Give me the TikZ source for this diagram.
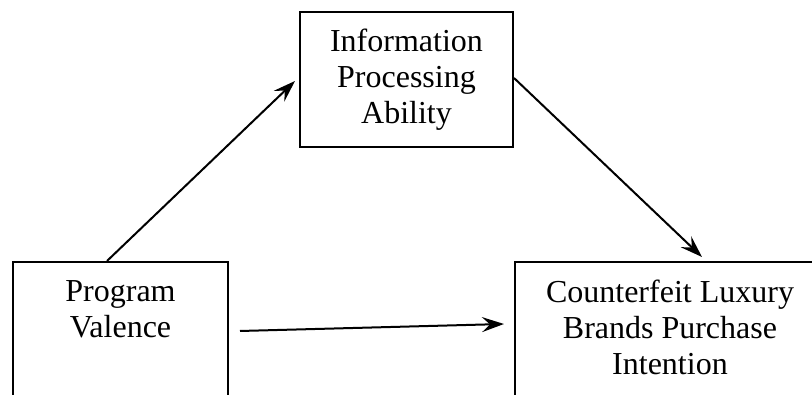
\documentclass[tikz,border=0pt]{standalone}
\usepackage{fontspec}
\setmainfont{Liberation Serif}
\usetikzlibrary{arrows.meta}
\tikzset{
  box/.style={draw, line width=2pt, rectangle, inner sep=0pt},
  txt/.style={inner sep=0pt, align=center, anchor=north,
    font=\fontsize{32}{36}\selectfont},
  arr/.style={line width=2pt, -{Stealth[length=22pt,width=15pt,inset=8pt]}}
}
\begin{document}
\begin{tikzpicture}[x=1pt,y=1pt]
\useasboundingbox (0,0) rectangle (812,395);
\clip (0,0) rectangle (812,395);
\node[box, minimum width=213pt, minimum height=135pt] (ipa) at (406.5,315.5) {};
\node[box, minimum width=215pt, minimum height=153pt] (pv) at (120.5,56.5) {};
\node[box, minimum width=310pt, minimum height=153pt] (cl) at (670,56.5) {};
\node[txt] (ipat) at ([yshift=-17.8pt]ipa.north) {Information\\Processing\\Ability};
\node[txt] (pvt) at ([yshift=-19.5pt]pv.north) {Program\\Valence};
\node[txt] (clt) at ([yshift=-18.8pt]cl.north) {Counterfeit Luxury\\Brands Purchase\\Intention};
\draw[arr] ([xshift=95pt]pv.north west) -- ([xshift=-4pt,yshift=-1.5pt]ipa.west);
\draw[arr] ([yshift=1.5pt]ipa.east) -- ([xshift=188pt,yshift=4pt]cl.north west);
\draw[arr] ([xshift=11pt,yshift=7.5pt]pv.east) -- ([xshift=-10pt,yshift=14.5pt]cl.west);
\end{tikzpicture}
\end{document}
